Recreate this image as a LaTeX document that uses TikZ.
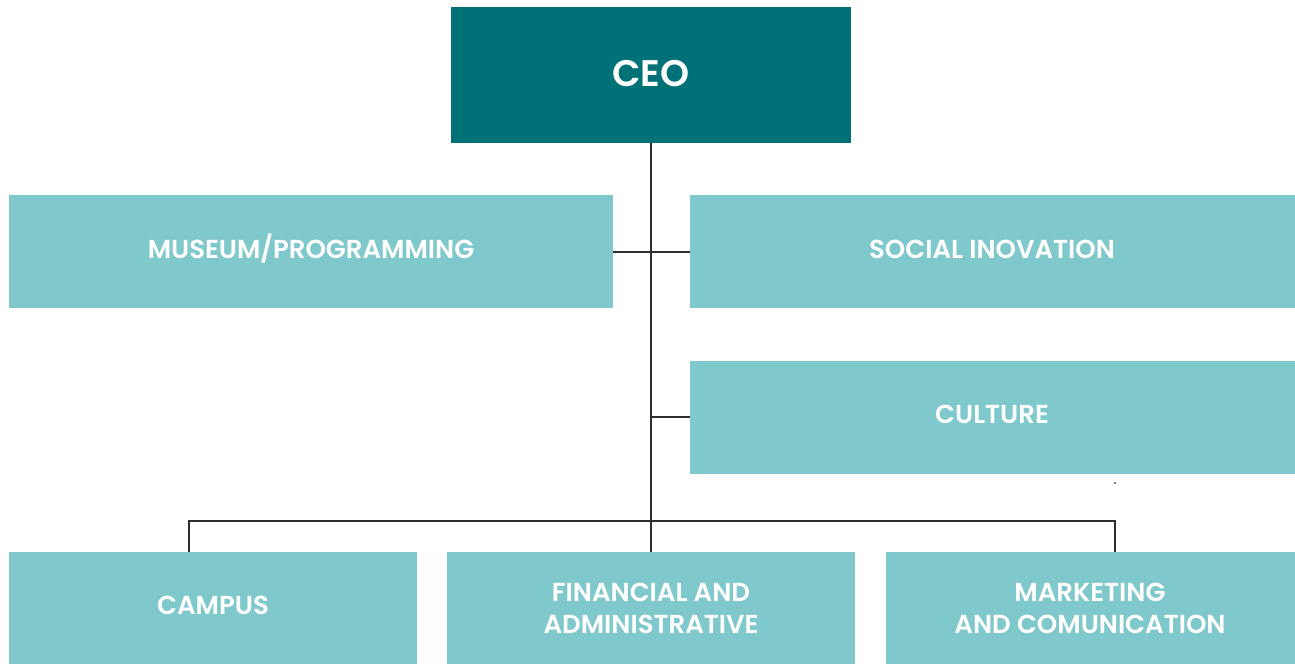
\documentclass[tikz,border=0pt]{standalone}
\usepackage{fontspec}
\setmainfont{Poppins}[UprightFont=* Medium, BoldFont=* SemiBold]
\definecolor{headteal}{HTML}{007176}
\definecolor{unitteal}{HTML}{7FC8CC}
\definecolor{linkgray}{HTML}{2E2E2E}
\begin{document}
\begin{tikzpicture}[x=1pt,y=-1pt,
  box/.style={fill=unitteal, draw=none, text=white, align=center,
    font=\fontsize{26}{32}\selectfont\bfseries},
  headbox/.style={fill=headteal, draw=none, text=white,
    font=\fontsize{37}{40}\selectfont\bfseries},
  link/.style={draw=linkgray, line width=1.4pt}]
  \useasboundingbox (0,0) rectangle (1295,664);
  % boxes given by corner coordinates
  \path[headbox] (451,7) rectangle (851,143);
  \node[headbox, fill=none] (ceo) at (651,74) {CEO};
  \coordinate (ceoB) at (651,143);

  \path[box] (9,195) rectangle (613,308);
  \node[box, fill=none] (museum) at (311,249) {MUSEUM/PROGRAMMING};
  \coordinate (museumR) at (613,252);

  \path[box] (690,195) rectangle (1295,308);
  \node[box, fill=none] (social) at (992,249) {SOCIAL INOVATION};
  \coordinate (socialL) at (690,252);

  \path[box] (690,361) rectangle (1295,474);
  \node[box, fill=none] (culture) at (992,414) {CULTURE};
  \coordinate (cultureL) at (690,417);

  \path[box] (9,552) rectangle (417,664);
  \node[box, fill=none] (campus) at (213,605) {CAMPUS};
  \coordinate (campusT) at (189,552);

  \path[box] (447,552) rectangle (855,664);
  \node[box, fill=none] (fin) at (651,608) {FINANCIAL AND\\ADMINISTRATIVE};
  \coordinate (finT) at (651,552);

  \path[box] (886,552) rectangle (1295,664);
  \node[box, fill=none] (mkt) at (1090,608) {MARKETING\\AND COMUNICATION};
  \coordinate (mktT) at (1115,552);

  % connectors
  \coordinate (spineMid) at (651,252);
  \coordinate (spineCul) at (651,417);
  \coordinate (bus) at (651,521);
  \draw[link] (ceoB) -- (finT);
  \draw[link] (museumR) -- (socialL);
  \draw[link] (spineCul) -- (cultureL);
  \draw[link] (campusT) |- (bus) -| (mktT);

  % small mark
  \fill[gray] (1114,482) rectangle (1116,484);
\end{tikzpicture}
\end{document}
